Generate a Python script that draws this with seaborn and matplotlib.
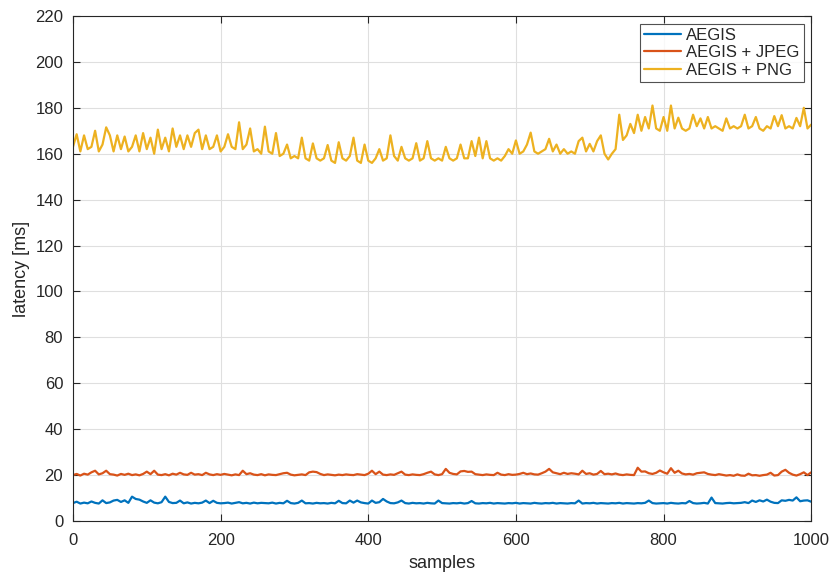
import numpy as np
import pandas as pd
import matplotlib
matplotlib.use("Agg")
import matplotlib.pyplot as plt
import seaborn as sns

# ---------------------- data (every 5th sample) ----------------------

samples = np.arange(0, 1001, 5)

aegis = [
    7.8, 8.4, 7.6, 8.0, 7.7, 8.5, 7.9, 7.6, 9.0, 7.8, 8.1, 8.9, 9.2, 8.3, 9.0, 7.9, 10.6, 9.6, 9.3, 8.5,
    7.9, 9.0, 8.0, 7.7, 8.2, 10.6, 8.3, 7.8, 7.9, 8.9, 7.7, 8.1, 7.6, 7.9, 7.7, 8.0, 8.9, 7.8, 8.8, 7.9,
    7.7, 7.8, 8.0, 7.6, 7.9, 8.2, 7.7, 7.9, 7.6, 8.0, 7.7, 7.9, 7.8, 7.7, 8.0, 7.6, 7.9, 7.7, 8.8, 7.8,
    7.6, 7.9, 8.9, 7.7, 7.8, 7.6, 7.9, 7.7, 7.8, 7.6, 7.9, 7.7, 8.8, 7.8, 7.7, 8.9, 8.0, 8.9, 8.1, 7.8,
    7.6, 8.9, 7.9, 8.2, 9.6, 8.5, 7.8, 7.7, 8.1, 8.9, 7.8, 7.6, 7.9, 7.7, 7.8, 7.6, 7.9, 7.7, 7.6, 8.9,
    7.8, 7.7, 7.6, 7.8, 7.7, 7.9, 7.6, 7.8, 8.7, 7.7, 7.6, 7.8, 7.7, 7.9, 7.6, 7.8, 7.7, 7.6, 7.8, 7.7,
    7.9, 7.6, 7.8, 7.7, 7.6, 7.9, 7.7, 7.6, 7.8, 7.7, 7.9, 7.6, 7.8, 7.7, 7.6, 7.8, 7.7, 8.9, 7.6, 7.8,
    7.7, 7.9, 7.6, 7.8, 7.7, 7.6, 7.8, 7.7, 7.9, 7.6, 7.8, 7.7, 7.6, 7.8, 7.7, 7.9, 8.9, 7.8, 7.6, 7.7,
    7.8, 7.6, 7.9, 7.7, 7.6, 7.8, 7.7, 8.7, 7.8, 7.6, 7.7, 7.9, 7.6, 10.2, 7.8, 7.7, 7.6, 7.8, 7.9, 7.7,
    7.8, 7.9, 8.2, 7.8, 8.9, 8.3, 9.0, 8.5, 9.3, 8.4, 7.9, 7.8, 9.0, 8.8, 9.2, 8.9, 10.3, 8.6, 8.9, 9.0,
    8.4,
]

aegis_jpeg = [
    20.0, 20.5, 19.8, 20.6, 20.2, 21.2, 21.9, 20.3, 20.8, 21.9, 20.4, 20.2, 19.8, 20.5, 20.1, 20.6, 20.0, 20.3, 19.9, 20.5,
    21.5, 20.4, 21.9, 20.2, 20.0, 20.4, 19.9, 20.6, 20.2, 21.0, 20.3, 20.1, 21.0, 20.2, 20.4, 20.0, 21.0, 20.3, 20.0, 20.4,
    20.1, 20.5, 20.2, 19.9, 20.3, 20.0, 21.9, 20.4, 20.8, 20.2, 20.0, 20.4, 19.9, 20.3, 20.1, 20.0, 20.4, 20.8, 21.0, 20.2,
    19.9, 20.1, 20.3, 20.0, 21.2, 21.5, 21.3, 20.5, 20.0, 20.3, 20.1, 19.9, 20.2, 20.0, 20.3, 20.1, 20.0, 20.4, 20.2, 20.0,
    20.6, 21.9, 20.4, 21.5, 20.2, 20.0, 20.3, 20.1, 20.8, 21.5, 20.2, 20.0, 20.3, 20.1, 20.0, 20.4, 21.0, 21.5, 20.3, 20.0,
    20.4, 22.7, 21.0, 20.5, 20.3, 21.6, 21.8, 21.4, 21.5, 20.4, 20.2, 20.0, 20.3, 20.1, 20.0, 21.0, 20.2, 20.0, 20.4, 20.1,
    20.2, 20.5, 21.0, 20.4, 20.7, 20.3, 20.2, 20.8, 21.5, 22.7, 21.2, 20.8, 20.4, 21.0, 20.5, 20.8, 20.6, 20.3, 21.9, 20.5,
    20.8, 20.2, 20.5, 21.8, 20.4, 20.6, 20.3, 20.7, 20.2, 20.0, 20.3, 20.1, 20.0, 23.2, 21.5, 21.6, 20.8, 20.5, 21.0, 22.0,
    21.2, 20.6, 23.0, 21.0, 21.9, 20.7, 20.3, 20.5, 20.2, 20.8, 21.0, 21.2, 20.5, 20.2, 20.0, 20.4, 20.1, 19.8, 20.0, 19.7,
    20.3, 19.8, 19.7, 20.6, 19.9, 20.0, 19.7, 20.0, 20.2, 21.0, 19.8, 20.0, 21.5, 22.3, 21.0, 20.2, 19.8, 20.4, 21.2, 20.0,
    21.2,
]

aegis_png = [
    163, 168.5, 161, 168, 162, 163, 170, 161, 164, 171.5, 168, 161, 168, 162, 167.5, 161, 163, 168, 161, 169,
    162, 167, 160, 170.5, 162, 167, 161, 171, 163, 168, 162, 168, 163, 169, 170.5, 162, 168, 162, 163, 168,
    161, 163, 168.5, 163, 162, 173.7, 162, 164, 171, 161, 162, 160, 171.8, 161, 160, 169, 159, 160, 164, 158,
    159, 158, 167, 158, 157, 164.5, 158, 157, 158, 163.8, 157, 156, 165, 158, 157, 159, 167, 157, 156, 164,
    157, 156, 158, 162, 157, 158, 168, 159, 157, 163, 158, 157, 158, 164.6, 157, 158, 165.5, 158, 157, 158,
    157, 163, 158, 157, 158, 164, 158, 158, 165.5, 159, 167, 158, 165.5, 158, 157, 158, 157, 159, 162, 160,
    165.8, 160, 161, 164, 169.2, 161, 160, 161, 162, 166.5, 161, 164, 160, 162, 160, 161, 160, 165.5, 167, 161,
    164.3, 161, 165.5, 168, 160, 157.5, 160, 162, 177, 166, 168, 173, 169, 177, 170, 176, 171, 181, 171, 170,
    176, 170, 181, 171, 175.7, 171, 170, 171, 177, 172, 175.4, 171, 176, 171, 172, 171, 170, 175.4, 171, 172,
    171, 172, 177, 171, 172, 176, 171, 170, 172, 171, 176.4, 172, 176.8, 171, 172, 171, 175.6, 172, 180, 171,
    172.7,
]

series_names = ["AEGIS", "AEGIS + JPEG", "AEGIS + PNG"]
colors = ["#0072BD", "#D95319", "#EDB120"]

# ---------------------- build long table ----------------------

df = pd.concat([
    pd.DataFrame({"samples": samples, "latency": vals, "series": name})
    for name, vals in zip(series_names, [aegis, aegis_jpeg, aegis_png])
])

# ---------------------- plot ----------------------

sns.set_theme(style="whitegrid")
plt.rcParams["font.family"] = ["Liberation Sans", "DejaVu Sans"]

fig = plt.figure(figsize=(8.32, 5.76), dpi=100)
ax = fig.add_axes([0.0877, 0.0955, 0.8873, 0.8767])

sns.lineplot(data=df, x="samples", y="latency", hue="series",
             palette=colors, linewidth=1.6, ax=ax, estimator=None)

ax.set_xlim(0, 1000)
ax.set_ylim(0, 220)
ax.set_xticks(np.arange(0, 1001, 200))
ax.set_yticks(np.arange(0, 221, 20))
ax.set_xlabel("samples", fontsize=13, color="#262626", labelpad=5)
ax.set_ylabel("latency [ms]", fontsize=13, color="#262626", labelpad=4)

ax.set_facecolor("white")
ax.grid(True, color="#dfdfdf", linewidth=0.8)
for s in ax.spines.values():
    s.set_visible(True)
    s.set_color("#262626")
    s.set_linewidth(0.8)
ax.tick_params(direction="in", length=5, width=0.8, colors="#262626",
               labelsize=12, top=True, right=True, bottom=True, left=True,
               labelcolor="#262626")
ax.tick_params(axis="x", pad=9)
ax.tick_params(axis="y", pad=7)

leg = ax.legend(loc="upper right", fontsize=12, frameon=True, fancybox=False,
                edgecolor="#262626", handlelength=2.2, handletextpad=0.3,
                borderpad=0.25, labelspacing=0.15, borderaxespad=0.45)
leg.get_frame().set_linewidth(0.8)
leg.set_title(None)

fig.savefig("out.png", dpi=100)
